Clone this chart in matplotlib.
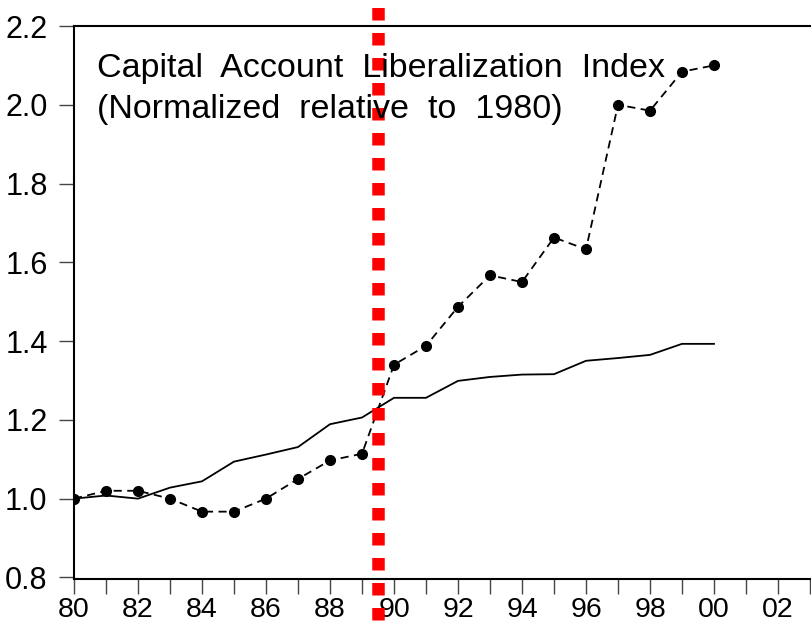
import numpy as np
import matplotlib
matplotlib.use('Agg')
import matplotlib.pyplot as plt
from matplotlib.ticker import MultipleLocator, FuncFormatter

plt.rcParams['font.family'] = ['Liberation Sans', 'DejaVu Sans']

years = np.arange(1980, 2001)
# normalized capital account liberalization index (1980 = 1)
index_dashed = [1.00, 1.02, 1.02, 1.00, 0.967, 0.967, 1.00, 1.05, 1.097, 1.114,
                1.34, 1.388, 1.487, 1.567, 1.55, 1.663, 1.633, 2.00, 1.985, 2.084, 2.10]
index_solid = [1.00, 1.008, 1.00, 1.028, 1.044, 1.094, 1.112, 1.131, 1.189, 1.206,
               1.256, 1.256, 1.299, 1.309, 1.315, 1.316, 1.35, 1.357, 1.365, 1.393, 1.393]
break_year = 1989.5
title_lines = ['Capital  Account  Liberalization  Index', '(Normalized  relative  to  1980)']

W, H = 811, 624
fig = plt.figure(figsize=(W / 100, H / 100), dpi=100)
fig.patch.set_facecolor('white')

# axes frame runs past the right edge of the figure
left, right, top, bottom = 74, 826, 26, 579
ax = fig.add_axes([left / W, 1 - bottom / H, (right - left) / W, (bottom - top) / H])

ax.plot(years, index_solid, color='black', lw=1.3, zorder=3)
ax.plot(years, index_dashed, color='black', lw=1.3, ls=(0, (4.5, 3)),
        marker='o', ms=7, zorder=3)

ax.axvline(break_year, ymin=-0.075, ymax=1.04, color='#ff0000', lw=9,
           ls=(0, (1, 1)), dash_capstyle='butt', clip_on=False, zorder=4)

ax.set_xlim(1980, 2003.5)
ax.set_ylim(0.796, 2.2)

ax.xaxis.set_major_locator(MultipleLocator(1))
ax.xaxis.set_major_formatter(FuncFormatter(
    lambda v, p: f'{int(round(v)) % 100:02d}' if int(round(v)) % 2 == 0 else ''))
ax.yaxis.set_major_locator(MultipleLocator(0.2))
ax.yaxis.set_major_formatter(FuncFormatter(lambda v, p: f'{v:.1f}'))

ax.tick_params(axis='both', direction='out', length=11, width=1.0,
               color='#444444', labelcolor='black')
ax.tick_params(axis='y', pad=8, labelsize=22)
ax.tick_params(axis='x', pad=2, labelsize=20.5)
for s in ax.spines.values():
    s.set_linewidth(1.5)
    s.set_color('black')

ax.text(97 / W, 1 - 77 / H, title_lines[0], transform=fig.transFigure,
        fontsize=24.5, color='black', zorder=5)
ax.text(97 / W, 1 - 118 / H, title_lines[1], transform=fig.transFigure,
        fontsize=24.5, color='black', zorder=5)

fig.savefig('out.png', dpi=100)
